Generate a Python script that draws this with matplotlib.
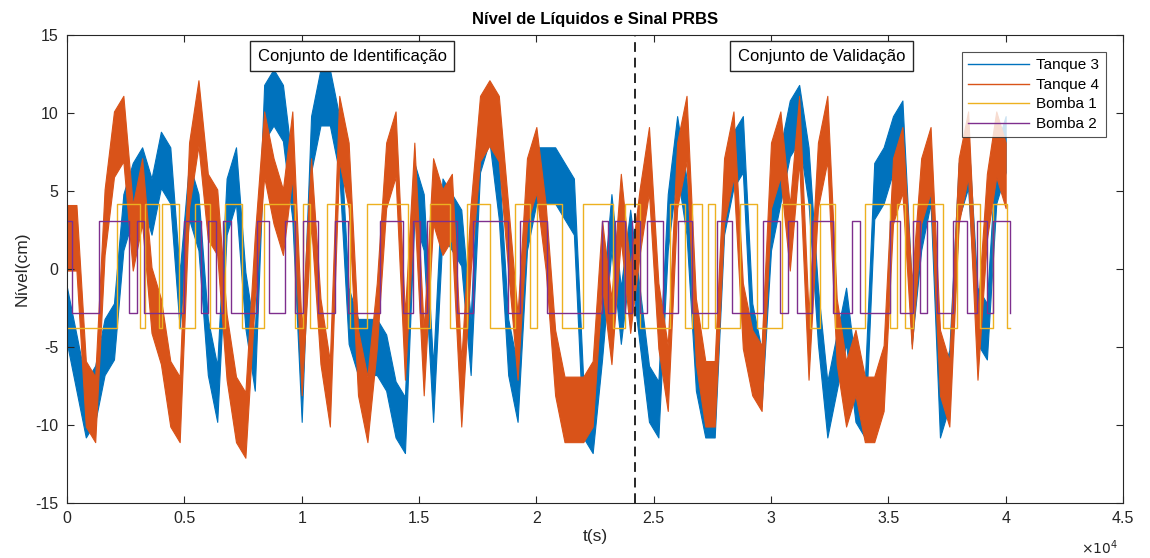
import numpy as np
import matplotlib
matplotlib.use("Agg")
import matplotlib.pyplot as plt

plt.rcParams['font.family'] = ['Liberation Sans', 'DejaVu Sans']
plt.rcParams['axes.unicode_minus'] = False

# ---------------- data ----------------
T_STEP = 400  # sampling of the read-off tank curves (s)
tanque3 = [-3, -6, -9, -8, -5, -4, 3, 5, 6, 4, 7, 6, -2, 5, 3, -5, -8, 4, 6, -2,
           -6, 10, 11, 10, 5, -8, 8, 11, 11, 8, -3, -5, -5, -5, -6, -9, -10, 5, 3, -8,
           4, 3, 2, -5, 8, 10, 5, -5, -8, 3, 6, 6, 6, 5, 4, -9, -10, -4, 3, -3,
           2, -3, -8, -9, 3, 8, 4, -6, -9, -9, 4, 7, 8, -4, -7, 3, 6, 9, 10, 6,
           -3, -9, -6, -3, -8, -9, 5, 6, 8, 9, -3, 3, 6, -9, -7, 5, 7, -3, -4, 6, 8]
tanque4 = [2, 2, -8, -9, 3, 8, 9, 2, 5, -2, -4, -8, -9, 6, 10, 4, 3, -5, -9, -10,
           0, 8, 5, 3, 8, -6, 5, -4, -8, 9, 6, -6, -9, -3, 6, 8, -5, 6, -6, 5,
           3, 4, -8, 2, 9, 10, 9, 2, -5, 5, 7, 2, -6, -9, -9, -9, -8, 1, -4, 4,
           -2, 3, 7, -3, -7, 6, 9, -4, -8, -8, 5, 8, -3, -6, -7, 6, 8, 2, 9, -5,
           6, 9, -4, -8, -6, -9, -9, -7, 5, 7, -3, 5, 7, -6, -8, 5, 8, -5, 4, 8, 6]
noise_t3 = 1.8
noise_t4 = 2.1

# PRBS: intervals (start, end) in seconds where each pump is at its high level
bomba1_high = [(2130, 3111), (3324, 3920), (4048, 4772), (5454, 6093), (6732, 7457),
               (8394, 9715), (10056, 10354), (11079, 12059), (12783, 14530),
               (15468, 16320), (17044, 18024), (19089, 19728), (20027, 21092),
               (21987, 23265), (23776, 24415), (25694, 26333), (26631, 27057),
               (27313, 27611), (28677, 29401), (30466, 31659), (32085, 32724),
               (34003, 35068), (35366, 35707), (36048, 37327), (37924, 38903),
               (39457, 40054)]
bomba2_high = [(0, 200), (1364, 2642), (2983, 3281), (4985, 5710), (6008, 6349),
               (6647, 6988), (8096, 8607), (9289, 9715), (10056, 10695),
               (11419, 11973), (13337, 14317), (14743, 15041), (15340, 16618),
               (17300, 18791), (19302, 20453), (22796, 23052), (23350, 23776),
               (24074, 24415), (24714, 25396), (26035, 26631), (27697, 28336),
               (29657, 30381), (30722, 31105), (31744, 32639), (33449, 33790),
               (35068, 35494), (36048, 36346), (36645, 37071), (37753, 38349),
               (38775, 39201), (39457, 40182)]
bomba1_levels = (-3.8, 4.15)
bomba2_levels = (-2.85, 3.1)
t_end = 40200
t_split = 24200

xticks = [0, 5000, 10000, 15000, 20000, 25000, 30000, 35000, 40000, 45000]
xticklabels = ['0', '0.5', '1', '1.5', '2', '2.5', '3', '3.5', '4', '4.5']
yticks = [-15, -10, -5, 0, 5, 10, 15]

C_T3 = '#0072BD'
C_T4 = '#D95319'
C_B1 = '#EDB120'
C_B2 = '#7E2F8E'


def prbs(intervals, levels, tend):
    ts, ys = [0.0], [levels[0]]
    for a, b in intervals:
        ts += [a, a, b, b]
        ys += [levels[0], levels[1], levels[1], levels[0]]
    ts.append(tend)
    ys.append(levels[0])
    if intervals[0][0] == 0:
        ts, ys = ts[2:], ys[2:]
    return np.array(ts), np.array(ys)


# ---------------- figure ----------------
fig = plt.figure(figsize=(11.5, 5.58), dpi=100)
ax = fig.add_axes([0.0583, 0.0986, 0.9182, 0.8387])

t = np.arange(len(tanque3)) * T_STEP
t3 = np.array(tanque3, float)
t4 = np.array(tanque4, float)
ax.fill_between(t, t3 - noise_t3, t3 + noise_t3, color=C_T3, lw=0.8, ec=C_T3)
ax.fill_between(t, t4 - noise_t4, t4 + noise_t4, color=C_T4, lw=0.8, ec=C_T4)

tb1, yb1 = prbs(bomba1_high, bomba1_levels, t_end)
tb2, yb2 = prbs(bomba2_high, bomba2_levels, t_end)
ax.plot(tb1, yb1, color=C_B1, lw=1.0)
ax.plot(tb2, yb2, color=C_B2, lw=1.0)

# legend proxies
h = [plt.Line2D([], [], color=c, lw=1.0) for c in (C_T3, C_T4, C_B1, C_B2)]
leg = ax.legend(h, ['Tanque 3', 'Tanque 4', 'Bomba 1', 'Bomba 2'],
                loc='upper right', bbox_to_anchor=(0.9835, 0.963), fontsize=11,
                frameon=True, fancybox=False, edgecolor='#262626',
                handlelength=4.0, borderpad=0.4, labelspacing=0.36,
                handletextpad=0.5, borderaxespad=0.0)
leg.get_frame().set_linewidth(0.8)

ax.axvline(t_split, color='#262626', ls='--', lw=1.4, dashes=(5, 3))

box = dict(boxstyle='square,pad=0.45', fc='white', ec='#262626', lw=1.0)
ax.text(12150, 13.65, 'Conjunto de Identificação', ha='center', va='center',
        fontsize=12, bbox=box)
ax.text(32150, 13.65, 'Conjunto de Validação', ha='center', va='center',
        fontsize=12, bbox=box)

ax.set_xlim(0, 45000)
ax.set_ylim(-15, 15)
ax.set_xticks(xticks)
ax.set_xticklabels(xticklabels)
ax.set_yticks(yticks)
ax.tick_params(direction='in', top=True, right=True, length=5, width=0.8,
               labelsize=11.5, colors='#262626', pad=6)
for s in ax.spines.values():
    s.set_color('#262626')
    s.set_linewidth(0.8)

ax.set_title('Nível de Líquidos e Sinal PRBS', fontsize=12, fontweight='bold',
             color='black', pad=8)
ax.set_xlabel('t(s)', fontsize=12.5, color='#262626', labelpad=2)
ax.set_ylabel('Nível(cm)', fontsize=12.5, color='#262626', labelpad=4)
ax.text(0.995, -0.075, r'$\times10^{4}$', transform=ax.transAxes, ha='right',
        va='top', fontsize=10, color='#262626')

fig.savefig('out.png', dpi=100)
